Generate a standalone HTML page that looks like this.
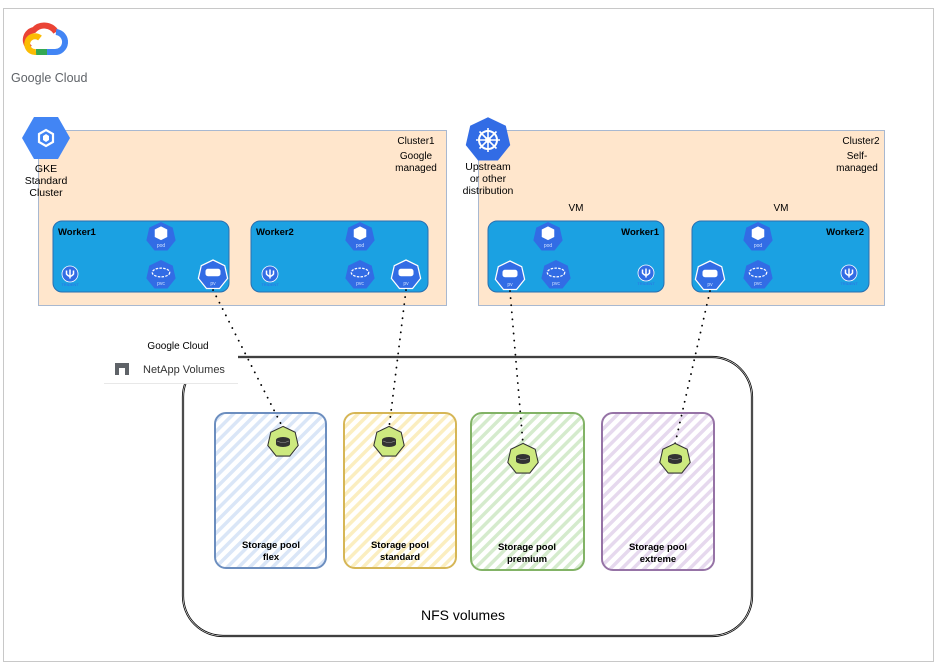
<!DOCTYPE html>
<html><head><meta charset="utf-8"><style>
html,body{margin:0;padding:0;background:#fff;}
svg{display:block;font-family:"Liberation Sans",Arial,sans-serif;}
</style></head><body>
<svg width="936" height="664" viewBox="0 0 936 664" xmlns="http://www.w3.org/2000/svg">
<defs>
<pattern id="hb" width="8" height="8" patternUnits="userSpaceOnUse" patternTransform="rotate(45)"><rect width="8" height="8" fill="#fff"/><rect width="3.5" height="8" fill="#dae6f7"/></pattern>
<pattern id="hy" width="8" height="8" patternUnits="userSpaceOnUse" patternTransform="rotate(45)"><rect width="8" height="8" fill="#fff"/><rect width="3.5" height="8" fill="#fbeec0"/></pattern>
<pattern id="hg" width="8" height="8" patternUnits="userSpaceOnUse" patternTransform="rotate(45)"><rect width="8" height="8" fill="#fff"/><rect width="3.5" height="8" fill="#d5ebcd"/></pattern>
<pattern id="hp" width="8" height="8" patternUnits="userSpaceOnUse" patternTransform="rotate(45)"><rect width="8" height="8" fill="#fff"/><rect width="3.5" height="8" fill="#e6d9ee"/></pattern>
<polygon id="hep" points="0,-12 9.38,-7.48 11.7,2.67 5.21,10.81 -5.21,10.81 -11.7,2.67 -9.38,-7.48"/>
<g id="pod0"><use href="#hep" fill="#326ce5"/><path d="M-5,-6 L0,-8.5 L5,-6 L5,0 L0,2.5 L-5,0Z" fill="#fff"/><text y="8" font-size="4" fill="#cfe0ff" text-anchor="middle">pod</text></g>
<g id="pvc0"><use href="#hep" fill="#326ce5"/><ellipse cx="0" cy="-2" rx="7" ry="3.5" fill="none" stroke="#fff" stroke-width="1" stroke-dasharray="2 1"/><text y="8" font-size="4" fill="#cfe0ff" text-anchor="middle">pvc</text></g>
<g id="pv0"><use href="#hep" fill="#326ce5" stroke="#fff" stroke-width="1"/><rect x="-6" y="-5" width="12" height="6" rx="2" fill="#fff"/><text y="8" font-size="4" fill="#cfe0ff" text-anchor="middle">pv</text></g>
<g id="pod"><use href="#pod0" transform="scale(1.25)"/></g>
<g id="pvc"><use href="#pvc0" transform="scale(1.25)"/></g>
<g id="pv"><use href="#pv0" transform="scale(1.25)"/></g>
<g id="tri"><circle r="8" fill="#326ce5" stroke="#fff" stroke-width="0.8"/><path d="M-3.5,-3.5 V0 Q0,4.5 3.5,0 V-3.5 M0,-4.5 V4.5" stroke="#fff" stroke-width="1.5" fill="none"/><text y="12" font-size="4" fill="#326ce5" text-anchor="middle">TRIDENT</text></g>
<g id="disk"><use href="#hep" transform="scale(1.3)" fill="#cde97f" stroke="#333" stroke-width="0.8"/><ellipse cx="0" cy="-2" rx="7" ry="3" fill="#333"/><rect x="-7" y="-2" width="14" height="4" fill="#333"/><ellipse cx="0" cy="2" rx="7" ry="3" fill="#333"/><path d="M-6,-1 Q0,2 6,-1" stroke="#999" stroke-width="0.6" fill="none"/></g>
</defs>
<rect x="3.5" y="8.5" width="930" height="653" fill="#fff" stroke="#c8c8c8"/>
<!-- Google cloud logo -->
<g transform="translate(44,40)">
<path d="M-14,8 A10,10 0 0 1 -10,-10 A14,14 0 0 1 12,-8" fill="none" stroke="#ea4335" stroke-width="6"/>
<path d="M12,-8 A10,10 0 0 1 10,12 L3,12" fill="none" stroke="#4285f4" stroke-width="6"/>
<path d="M3,12 H-8" fill="none" stroke="#34a853" stroke-width="6"/>
<path d="M-8,12 A8,8 0 0 1 -14,-2 A8,8 0 0 1 -4,-2" fill="none" stroke="#fbbc04" stroke-width="6"/>
</g>
<text x="11" y="82" font-size="12.5" fill="#5f6368">Google Cloud</text>
<!-- Cluster1 -->
<rect x="38.5" y="130.5" width="408" height="175" fill="#ffe6cc" stroke="#a8b8d0"/>
<text x="416" y="144" font-size="10" text-anchor="middle">Cluster1</text>
<text x="416" y="159" font-size="10" text-anchor="middle">Google</text>
<text x="416" y="171" font-size="10" text-anchor="middle">managed</text>
<g transform="translate(46,138)"><polygon points="-12,-21 12,-21 24,0 12,21 -12,21 -24,0" fill="#4285f4"/><path d="M-7,-4 L0,-8 L7,-4 L7,4 L0,8 L-7,4Z" fill="none" stroke="#fff" stroke-width="2.2"/><path d="M-3,-2 L0,-4 L3,-2 L3,2 L0,4 L-3,2Z" fill="#fff"/></g>
<text x="46" y="172" font-size="10.5" text-anchor="middle">GKE</text>
<text x="46" y="184" font-size="10.5" text-anchor="middle">Standard</text>
<text x="46" y="196" font-size="10.5" text-anchor="middle">Cluster</text>
<rect x="53" y="221" width="176" height="71" rx="9" fill="#1ba1e2" stroke="#2a6fb0"/>
<text x="58" y="235" font-size="9.5" font-weight="bold">Worker1</text>
<rect x="251" y="221" width="177" height="71" rx="9" fill="#1ba1e2" stroke="#2a6fb0"/>
<text x="256" y="235" font-size="9.5" font-weight="bold">Worker2</text>
<use href="#pod" x="161" y="237"/><use href="#pvc" x="161" y="275"/><use href="#pv" x="213" y="275"/><use href="#tri" x="70" y="274"/>
<use href="#pod" x="360" y="237"/><use href="#pvc" x="360" y="275"/><use href="#pv" x="406" y="275"/><use href="#tri" x="270" y="274"/>
<!-- Cluster2 -->
<rect x="478.5" y="130.5" width="406" height="175" fill="#ffe6cc" stroke="#a8b8d0"/>
<text x="861" y="144" font-size="10" text-anchor="middle">Cluster2</text>
<text x="857" y="159" font-size="10" text-anchor="middle">Self-</text>
<text x="857" y="171" font-size="10" text-anchor="middle">managed</text>
<g transform="translate(488,140)"><use href="#hep" transform="scale(1.9)" fill="#326ce5"/><circle r="9" fill="none" stroke="#fff" stroke-width="2"/><path d="M0,-12 V12 M-12,0 H12 M-8.5,-8.5 L8.5,8.5 M8.5,-8.5 L-8.5,8.5" stroke="#fff" stroke-width="1.6"/><circle r="3" fill="#fff"/></g>
<text x="488" y="170" font-size="10.5" text-anchor="middle">Upstream</text>
<text x="488" y="182" font-size="10.5" text-anchor="middle">or other</text>
<text x="488" y="194" font-size="10.5" text-anchor="middle">distribution</text>
<text x="576" y="211" font-size="10" text-anchor="middle">VM</text>
<text x="781" y="211" font-size="10" text-anchor="middle">VM</text>
<rect x="488" y="221" width="176" height="71" rx="9" fill="#1ba1e2" stroke="#2a6fb0"/>
<text x="659" y="235" font-size="9.5" font-weight="bold" text-anchor="end">Worker1</text>
<rect x="692" y="221" width="177" height="71" rx="9" fill="#1ba1e2" stroke="#2a6fb0"/>
<text x="864" y="235" font-size="9.5" font-weight="bold" text-anchor="end">Worker2</text>
<use href="#pod" x="548" y="237"/><use href="#pvc" x="556" y="275"/><use href="#pv" x="510" y="276"/><use href="#tri" x="646" y="273"/>
<use href="#pod" x="758" y="237"/><use href="#pvc" x="758" y="275"/><use href="#pv" x="710" y="276"/><use href="#tri" x="849" y="273"/>
<!-- NFS box -->
<rect x="183" y="357" width="569" height="279" rx="40" fill="#fff" stroke="#000" stroke-width="2.2"/>
<rect x="183" y="357" width="569" height="279" rx="40" fill="none" stroke="#fff" stroke-width="0.6"/>
<rect x="104" y="330" width="134" height="53" fill="#fff"/>
<line x1="104" y1="383.5" x2="238" y2="383.5" stroke="#e8e8e8"/>
<text x="178" y="349" font-size="10" text-anchor="middle">Google Cloud</text>
<path d="M115,363 H129 V375 H125 V368 H119 V375 H115Z" fill="#5f6368"/>
<text x="143" y="373" font-size="11" fill="#333">NetApp Volumes</text>
<text x="463" y="620" font-size="14" text-anchor="middle">NFS volumes</text>
<!-- pools -->
<rect x="215" y="413" width="111" height="155" rx="11" fill="url(#hb)" stroke="#6c8ebf" stroke-width="2"/>
<rect x="344" y="413" width="112" height="155" rx="11" fill="url(#hy)" stroke="#d6b656" stroke-width="2"/>
<rect x="471" y="413" width="113" height="157" rx="11" fill="url(#hg)" stroke="#82b366" stroke-width="2"/>
<rect x="602" y="413" width="112" height="157" rx="11" fill="url(#hp)" stroke="#9673a6" stroke-width="2"/>
<g font-size="9.5" font-weight="bold" text-anchor="middle">
<text x="271" y="548">Storage pool</text><text x="271" y="560">flex</text>
<text x="400" y="548">Storage pool</text><text x="400" y="560">standard</text>
<text x="527" y="550">Storage pool</text><text x="527" y="562">premium</text>
<text x="658" y="550">Storage pool</text><text x="658" y="562">extreme</text>
</g>
<!-- dotted connectors -->
<g stroke="#000" stroke-width="1.8" stroke-dasharray="0.1 7" stroke-linecap="round" fill="none">
<line x1="213" y1="290" x2="283" y2="428"/>
<line x1="406" y1="290" x2="389" y2="428"/>
<line x1="510" y1="291" x2="523" y2="444"/>
<line x1="710" y1="291" x2="675" y2="444"/>
</g>
<use href="#disk" x="283" y="442"/>
<use href="#disk" x="389" y="442"/>
<use href="#disk" x="523" y="459"/>
<use href="#disk" x="675" y="459"/>
</svg>
</body></html>
